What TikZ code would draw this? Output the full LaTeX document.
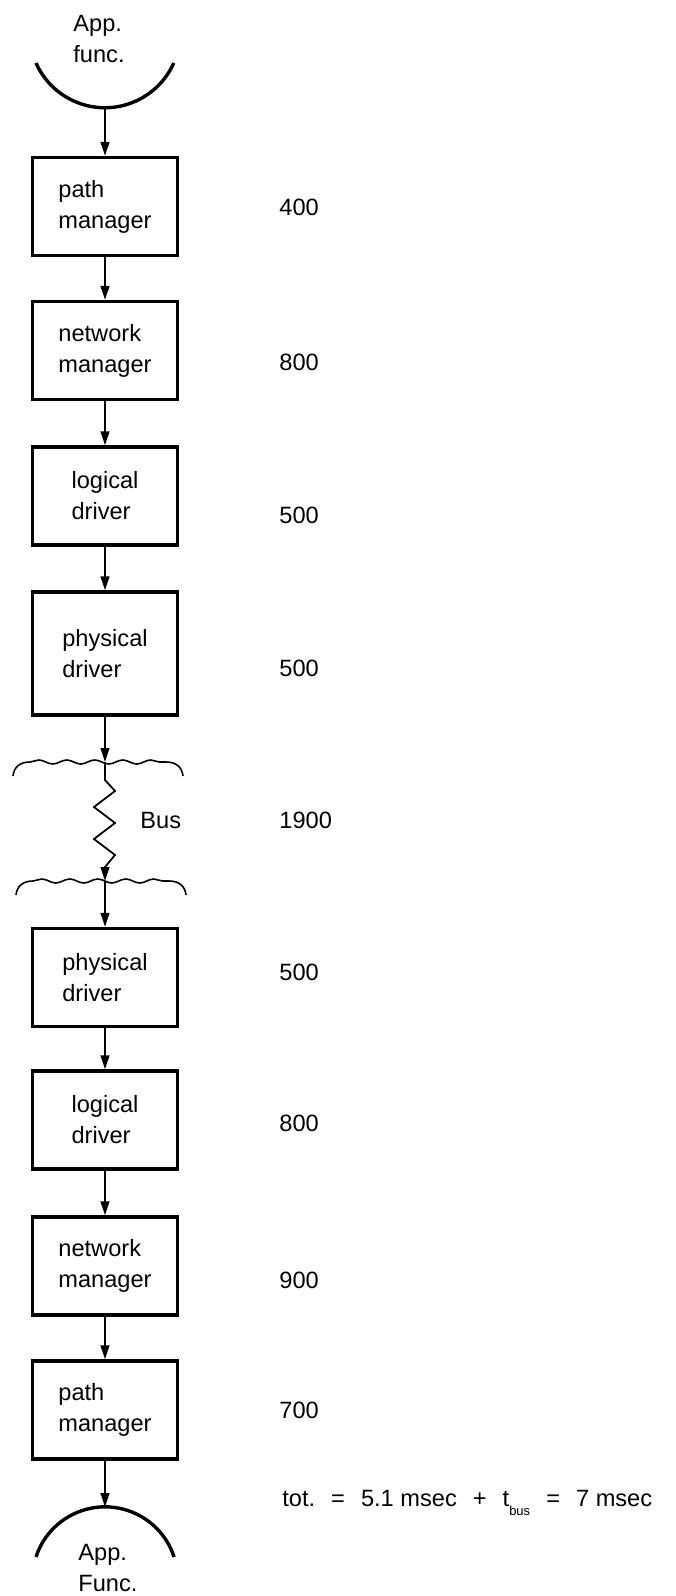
\documentclass[tikz,border=0pt]{standalone}
\usepackage{fontspec}
\setmainfont{Liberation Sans}
\usetikzlibrary{arrows.meta,decorations.pathmorphing}
\newcommand{\gp}{\hspace{0.68em}}

\begin{document}
\begin{tikzpicture}[
  x=0.5pt, y=-0.5pt,
  font=\fontsize{11.8}{15.5}\selectfont,
  blk/.style={draw, line width=1.7pt, minimum width=72.5pt,
              minimum height=49pt, align=left, inner sep=0pt},
  tall/.style={blk, minimum height=61.5pt},
  cost/.style={anchor=west, inner sep=0pt},
  lbl/.style={anchor=west, align=left, inner sep=0pt},
  link/.style={line width=0.9pt, -{Triangle[length=7pt,width=4.4pt]}},
  cup/.style={line width=1.7pt},
  brace/.style={line width=0.8pt},
  wave/.style={decoration={snake, segment length=14pt, amplitude=1pt}},
]
  \useasboundingbox (0,0) rectangle (675,1596);

  % sending side
  \node[lbl] (appIn) at (73,39) {App.\\func.};
  \draw[cup] (36,63) arc[start angle=156, end angle=24, radius=75.4];
  \coordinate (appTop) at (105,108);

  \node[blk]  (P1) at (105,206.5) {path\\manager};
  \node[blk]  (P2) at (105,350.5) {network\\manager};
  \node[blk]  (P3) at (105,496)   {logical\\driver};
  \node[tall] (P4) at (105,653.5) {physical\\driver};

  % bus
  \coordinate (busIn)  at (105,762);
  \coordinate (busOut) at (105,881);
  \draw[brace] (13,776) .. controls (14,767) and (20,762) .. (30,762)
    decorate[wave] {-- (166,762)}
    .. controls (176,762) and (182,767) .. (183,776);
  \draw[brace] (16,895) .. controls (17,886) and (23,881) .. (33,881)
    decorate[wave] {-- (169,881)}
    .. controls (179,881) and (185,886) .. (186,895);
  \node[cost] (bus) at (140,820) {Bus};

  % receiving side
  \node[blk] (P5) at (105,977.5) {physical\\driver};
  \node[blk] (P6) at (105,1120)  {logical\\driver};
  \node[blk] (P7) at (105,1266)  {network\\manager};
  \node[blk] (P8) at (105,1410)  {path\\manager};

  \draw[cup] (36,1557) arc[start angle=198, end angle=342, radius=72.6];
  \coordinate (appBot) at (105,1507);
  \node[lbl] (appOut) at (78,1568) {App.\\Func.};

  % connectors
  \draw[link] (appTop) -- (P1);
  \foreach \a/\b in {P1/P2,P2/P3,P3/P4,P5/P6,P6/P7,P7/P8}
    \draw[link] (\a) -- (\b);
  \draw[link] (P4) -- (busIn);
  \draw[link] (busIn) -- ++(0,18) -- ++(10,11) -- ++(-21,16) -- ++(21,16)
    -- ++(-21,16) -- ++(21,16) -- (105,867) -- (busOut);
  \draw[link] (busOut) -- (P5);
  \draw[link] (P8) -- (appBot);

  % times
  \node[cost] (t1) at (279,207)  {400};
  \node[cost] (t2) at (279,362)  {800};
  \node[cost] (t3) at (279,515)  {500};
  \node[cost] (t4) at (279,668)  {500};
  \node[cost] (t5) at (279,820)  {1900};
  \node[cost] (t6) at (279,972)  {500};
  \node[cost] (t7) at (279,1123) {800};
  \node[cost] (t8) at (279,1280) {900};
  \node[cost] (t9) at (279,1410) {700};
  \node[cost] (tot) at (282,1503) {tot.\gp=\gp5.1 msec\gp+\gp
    t\raisebox{-0.7ex}{\fontsize{6.5}{7}\selectfont bus}\gp=\gp7 msec};
\end{tikzpicture}
\end{document}
